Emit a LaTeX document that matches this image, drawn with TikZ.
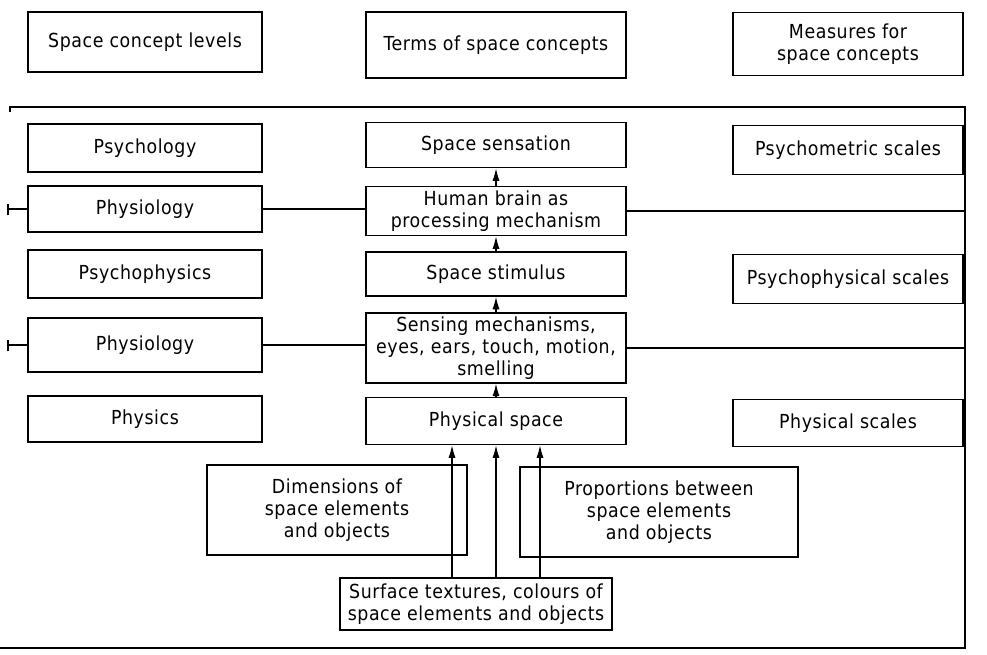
\documentclass[tikz,border=0pt]{standalone}
\usepackage{fontspec}
\usetikzlibrary{arrows.meta}
\newfontfamily\labelfont[LetterSpace=3]{DejaVu Sans Condensed}
\begin{document}
\begin{tikzpicture}[
            x=0.02cm, y=-0.02cm,
            box/.style={
                draw,
                line width=1.1pt,
                align=center,
                inner sep=2pt,
                font=\labelfont\fontsize{11}{12.5}\selectfont
            },
            leftbox/.style={box, minimum width=4.68cm, minimum height=0.96cm},
            midbox/.style={box, minimum width=5.2cm, minimum height=0.92cm},
            rightbox/.style={box, minimum width=4.6cm, minimum height=0.98cm},
            link/.style={line width=0.6pt},
            arr/.style={line width=0.6pt, -{Latex[length=7pt, width=4pt]}}
        ]
            \useasboundingbox (0,0) rectangle (987,654);

            % headings
            \node[leftbox, minimum height=1.2cm] (lev) at (145, 42) {Space concept levels};
            \node[midbox, minimum height=1.32cm] (term) at (496, 45) {Terms of space concepts};
            \node[rightbox, minimum height=1.26cm] (meas) at (848, 44) {Measures for\\space concepts};

            % frame
            \draw[link, line width=0.9pt] (10, 112) -- (10, 107) -- (965, 107) -- (965, 648) -- (0, 648);

            % levels
            \node[leftbox] (psylog) at (145, 148) {Psychology};
            \node[leftbox, minimum height=0.92cm] (phys1) at (145, 209) {Physiology};
            \node[leftbox] (psyphys) at (145, 274) {Psychophysics};
            \node[leftbox, minimum height=1.08cm] (phys2) at (145, 345) {Physiology};
            \node[leftbox, minimum height=0.92cm] (physics) at (145, 419) {Physics};

            % terms
            \node[midbox, minimum height=0.9cm] (sens) at (496, 145) {Space sensation};
            \node[midbox, minimum height=0.98cm] (brain) at (496, 211) {Human brain as\\processing mechanism};
            \node[midbox, minimum height=0.88cm] (stim) at (496, 274) {Space stimulus};
            \node[midbox, minimum height=1.2cm] (sensing) at (496, 348)
                {Sensing mechanisms,\\eyes, ears, touch, motion,\\smelling};
            \node[midbox, minimum height=0.94cm] (physsp) at (496, 421) {Physical space};

            % measures
            \node[rightbox] (psymet) at (848, 150) {Psychometric scales};
            \node[rightbox] (psyphscl) at (848, 279) {Psychophysical scales};
            \node[rightbox, minimum height=0.94cm] (physscl) at (848, 423) {Physical scales};

            % elements
            \node[box, minimum width=5.2cm, minimum height=1.8cm] (dim) at (337, 510)
                {Dimensions of\\space elements\\and objects};
            \node[box, minimum width=5.56cm, minimum height=1.8cm] (prop) at (659, 512)
                {Proportions between\\space elements\\and objects};
            \node[box, minimum width=5.44cm, minimum height=1.04cm] (surf) at (476, 604)
                {Surface textures, colours of\\space elements and objects};

            % side lines
            \coordinate (l1) at (phys1.west -| 8,0);
            \coordinate (r1) at (brain.east -| 965,0);
            \coordinate (l2) at (phys2.west -| 8,0);
            \coordinate (r2) at (sensing.east -| 965,0);
            \draw[link] (l1) -- (phys1.west);
            \draw[link] (phys1.east) -- (phys1.east -| brain.west);
            \draw[link] (brain.east) -- (r1);
            \draw[link] (l2) -- (phys2.west);
            \draw[link] (phys2.east) -- (phys2.east -| sensing.west);
            \draw[link] (sensing.east) -- (r2);
            \draw[link] ([yshift=-0.12cm]l1) -- ([yshift=0.1cm]l1);
            \draw[link] ([yshift=-0.12cm]l2) -- ([yshift=0.1cm]l2);

            % upward chain
            \draw[arr] (brain) -- (sens);
            \draw[arr] (stim) -- (brain);
            \draw[arr] (sensing) -- (stim);
            \draw[arr] (physsp) -- (sensing);

            \coordinate (p1) at ([xshift=-0.88cm]physsp.south);
            \coordinate (p2) at (physsp.south);
            \coordinate (p3) at ([xshift=0.88cm]physsp.south);
            \draw[arr] (surf.north -| p1) -- (p1);
            \draw[arr] (surf.north -| p2) -- (p2);
            \draw[arr] (surf.north -| p3) -- (p3);

        \end{tikzpicture}
\end{document}
